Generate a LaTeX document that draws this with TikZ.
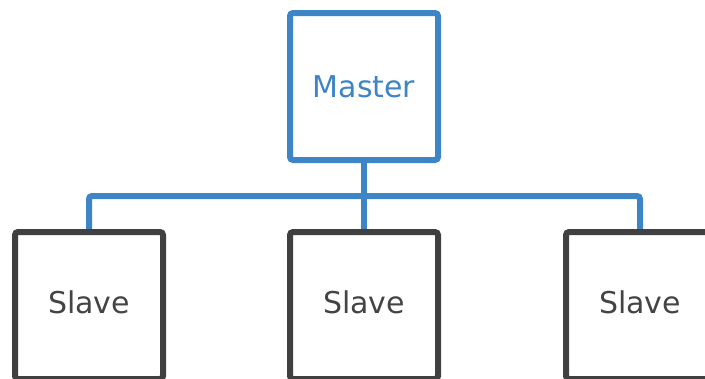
\documentclass[tikz,border=0pt]{standalone}
\usepackage{fontspec}
\setmainfont{DejaVu Sans}
\usetikzlibrary{backgrounds}
\definecolor{mblue}{RGB}{61,133,198}
\definecolor{sgray}{RGB}{64,64,64}
\definecolor{tgray}{RGB}{68,68,68}
\begin{document}
\begin{tikzpicture}[x=1pt,y=-1pt,
  box/.style={draw, fill=white, line width=6pt, rounded corners=3pt,
    minimum width=148pt, minimum height=147pt, inner sep=0pt,
    font=\fontsize{30}{36}\selectfont},
  masterbox/.style={box, draw=mblue, text=mblue},
  slavebox/.style={box, draw=sgray, text=tgray, text depth=7pt},
  bus/.style={draw=mblue, line width=6pt, rounded corners=3pt}]
\useasboundingbox (0,0) rectangle (705,378);
\clip (0,0) rectangle (705,378);
\node[masterbox] (m) at (364,86.5) {Master};
\node[slavebox] (s1) at (89,305.5) {Slave};
\node[slavebox] (s2) at (364,305.5) {Slave};
\node[slavebox] (s3) at (640,305.5) {Slave};
\coordinate (busmid) at (364,196);
\begin{scope}[on background layer]
\draw[bus] (m.south) -- (s2.north);
\draw[bus] (s1.north) |- (busmid) -| (s3.north);
\end{scope}
\end{tikzpicture}
\end{document}
